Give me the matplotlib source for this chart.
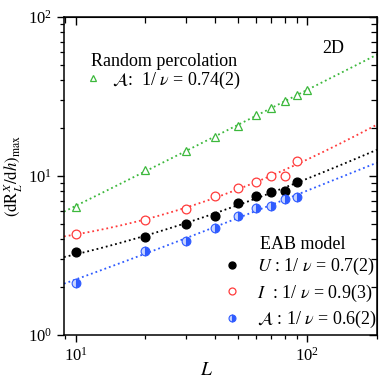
import numpy as np
import matplotlib
matplotlib.use("Agg")
import matplotlib.pyplot as plt
from matplotlib.lines import Line2D

plt.rcParams['font.family'] = ['Liberation Serif', 'DejaVu Serif']
plt.rcParams['mathtext.fontset'] = 'stix'

# ---- data ----
L_green = [10, 20, 30, 40, 50, 60, 70, 80, 90, 100]
y_green = [6.38, 10.9, 14.4, 17.7, 20.7, 24.1, 26.7, 29.6, 32.3, 34.7]

L_eab = [10, 20, 30, 40, 50, 60, 70, 80, 90]
y_U = [3.31, 4.12, 4.99, 5.60, 6.79, 7.52, 7.89, 8.05, 9.2]
y_I = [4.30, 5.29, 6.23, 7.52, 8.37, 9.21, 10.04, 10.04, 12.5]
y_A = [2.13, 3.39, 3.90, 4.71, 5.60, 6.32, 6.48, 7.17, 7.41]

exp_green = 0.74
exp_U = 0.7
exp_I = 0.9
exp_A = 0.6

c_green = '#3cb83c'
c_red = '#ff3b3b'
c_blue = '#2f5bff'
c_black = 'black'


def fit_curve(L, y, p, Lf):
    L = np.asarray(L, float)
    y = np.asarray(y, float)
    M = np.vstack([L ** p, np.ones_like(L)]).T
    (a, c), *_ = np.linalg.lstsq(M, y, rcond=None)
    return a * Lf ** p + c


fig = plt.figure(figsize=(3.82, 3.82), dpi=100)
ax = fig.add_axes([64 / 382, 1 - 335 / 382, (377 - 64) / 382, (335 - 17) / 382])
ax.set_xscale('log')
ax.set_yscale('log')
xmin, xmax = 8.9, 200
ax.set_xlim(xmin, xmax)
ax.set_ylim(1, 100)

Lf = np.logspace(np.log10(xmin), np.log10(xmax), 200)
lw = 1.3
ax.plot(Lf, fit_curve(L_green, y_green, exp_green, Lf), ls=':', color=c_green, lw=lw)
ax.plot(Lf, fit_curve(L_eab, y_I, exp_I, Lf), ls=':', color=c_red, lw=lw)
ax.plot(Lf, fit_curve(L_eab, y_U, exp_U, Lf), ls=':', color=c_black, lw=lw)
ax.plot(Lf, fit_curve(L_eab, y_A, exp_A, Lf), ls=':', color=c_blue, lw=lw)

ms = 6.3
ax.plot(L_green, y_green, '^', ls='none', mfc='white', mec=c_green, ms=ms, mew=0.9)
ax.plot(L_eab, y_I, 'o', ls='none', mfc='white', mec=c_red, ms=ms, mew=0.9)
ax.plot(L_eab, y_U, 'o', ls='none', mfc=c_black, mec=c_black, ms=ms)
ax.plot(L_eab, y_A, 'o', ls='none', mfc=c_blue, mec=c_blue, ms=ms, mew=0.8,
        fillstyle='right', markerfacecoloralt='#c9d5ff')

# ticks
for sp in ax.spines.values():
    sp.set_linewidth(1.1)
ax.tick_params(which='major', direction='out', length=5, width=1.0, labelsize=12)
ax.tick_params(which='minor', direction='out', length=3, width=0.9)
ax.xaxis.set_minor_formatter(matplotlib.ticker.NullFormatter())
ax.yaxis.set_minor_formatter(matplotlib.ticker.NullFormatter())

secx = ax.secondary_xaxis('top')
secx.tick_params(which='major', direction='in', length=6, width=1.0, labeltop=False)
secx.tick_params(which='minor', direction='in', length=4, width=0.9)
secx.xaxis.set_minor_formatter(matplotlib.ticker.NullFormatter())
secy = ax.secondary_yaxis('right')
secy.tick_params(which='major', direction='in', length=6, width=1.0, labelright=False)
secy.tick_params(which='minor', direction='in', length=4, width=0.9)
secy.yaxis.set_minor_formatter(matplotlib.ticker.NullFormatter())

ax.set_xlabel(r'$L$', fontsize=14)
ax.xaxis.set_label_coords(0.455, -0.085)
ax.set_ylabel(r'$(\mathrm{dR}_{L}^{X}/\mathrm{d}h)_{\mathrm{max}}$', fontsize=12)
ax.yaxis.set_label_coords(-0.125, 0.5)

fs = 13
ax.text(0.86, 0.90, '2D', transform=ax.transAxes, fontsize=fs, ha='center', va='center')
ax.text(0.085, 0.861, 'Random percolation', transform=ax.transAxes, fontsize=fs,
        ha='left', va='center')

h_g = Line2D([], [], marker='^', ls='none', mfc='white', mec=c_green, ms=5, mew=0.9)
leg1 = ax.legend([h_g], [r'$\mathcal{A}$:  1/ $\nu$ = 0.74(2)'], loc='upper left',
                 bbox_to_anchor=(0.065, 0.835), frameon=False, fontsize=fs,
                 handlelength=1.0, handletextpad=0.55, borderpad=0, borderaxespad=0)
ax.add_artist(leg1)

ax.text(0.625, 0.285, 'EAB model', transform=ax.transAxes, fontsize=fs,
        ha='left', va='center')
h_U = Line2D([], [], marker='o', ls='none', mfc=c_black, mec=c_black, ms=5)
h_I = Line2D([], [], marker='o', ls='none', mfc='white', mec=c_red, ms=5, mew=0.9)
h_A = Line2D([], [], marker='o', ls='none', mfc=c_blue, mec=c_blue, ms=5, mew=0.8,
             fillstyle='right', markerfacecoloralt='#c9d5ff')
ax.legend([h_U, h_I, h_A],
          [r'$U$ : 1/ $\nu$ = 0.7(2)', r'$I$  : 1/ $\nu$ = 0.9(3)', r'$\mathcal{A}$ : 1/ $\nu$ = 0.6(2)'],
          loc='lower right', bbox_to_anchor=(1.0, 0.015), frameon=False, fontsize=fs,
          handlelength=1.0, handletextpad=0.85, labelspacing=0.3, borderpad=0,
          borderaxespad=0)

fig.savefig('out.png', dpi=100)
